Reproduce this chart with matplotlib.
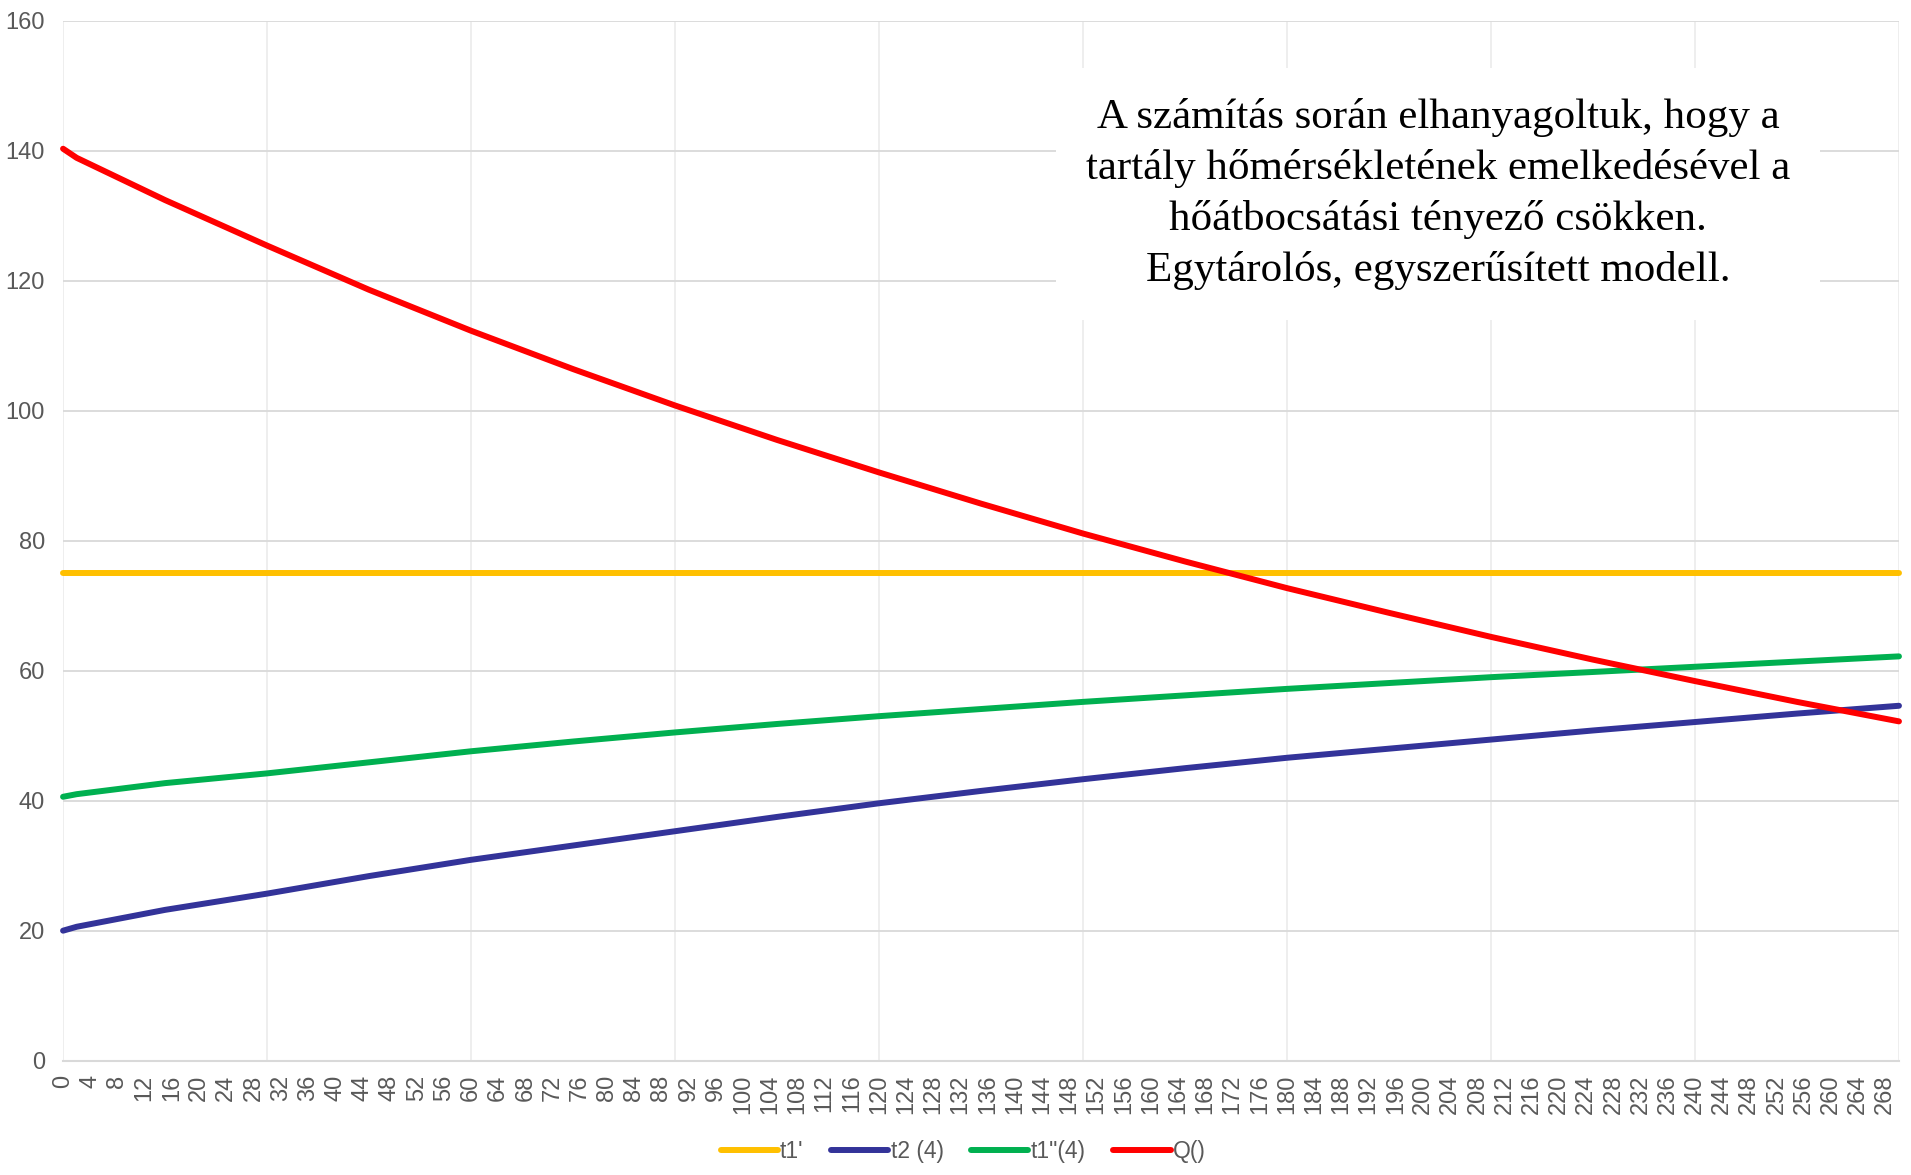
import numpy as np
import matplotlib
matplotlib.use("Agg")
import matplotlib.pyplot as plt

x_pts = [0, 2, 15, 30, 45, 60, 75, 90, 105, 120, 135, 150, 165, 180, 195, 210, 225, 240, 255, 270]

t1_prime = [75] * len(x_pts)
t2_4 = [20.0, 20.6, 23.2, 25.7, 28.4, 30.9, 33.1, 35.3, 37.5, 39.6, 41.5, 43.3, 45.0, 46.6, 48.0,
        49.4, 50.8, 52.1, 53.4, 54.6]
t1_dd_4 = [40.6, 41.0, 42.7, 44.2, 45.9, 47.6, 49.1, 50.5, 51.8, 53.0, 54.1, 55.2, 56.2, 57.2, 58.1,
           59.0, 59.8, 60.6, 61.4, 62.2]
q_vals = [140.3, 138.9, 132.4, 125.4, 118.6, 112.3, 106.4, 100.8, 95.5, 90.5, 85.7, 81.1, 76.8, 72.7,
          68.9, 65.2, 61.7, 58.4, 55.2, 52.2]

series_names = ["t1'", "t2 (4)", "t1\"(4)", "Q()"]
series_colors = ["#FFC000", "#333399", "#00B050", "#FF0000"]

x_labels = list(range(0, 269, 4))
x_grid = list(range(0, 271, 30))
y_ticks = list(range(0, 161, 20))

note = ("A számítás során elhanyagoltuk, hogy a\n"
        "tartály hőmérsékletének emelkedésével a\n"
        "hőátbocsátási tényező csökken.\n"
        "Egytárolós, egyszerűsített modell.")

plt.rcParams['font.family'] = ['Liberation Sans', 'DejaVu Sans']

fig = plt.figure(figsize=(19.11, 11.75), dpi=100)
ax = fig.add_axes([0.033, 0.0973, 0.9607, 0.8851])

for vals, name, col in zip([t1_prime, t2_4, t1_dd_4, q_vals], series_names, series_colors):
    ax.plot(x_pts, vals, color=col, lw=4.3, label=name, solid_capstyle='round',
            solid_joinstyle='round', clip_on=False, zorder=3)

ax.set_xlim(0, 270)
ax.set_ylim(0, 160)
ax.set_xticks(x_labels)
ax.set_xticklabels([str(v) for v in x_labels], rotation=90)
ax.set_yticks(y_ticks)

ax.tick_params(axis='both', which='both', length=0, labelsize=17, labelcolor='#595959')
ax.tick_params(axis='y', pad=13)
ax.tick_params(axis='x', pad=10)

ax.grid(axis='y', color='#D9D9D9', lw=1.3)
for gx in x_grid:
    ax.axvline(gx, color='#EDEDED', lw=1.3, zorder=0)
ax.set_axisbelow(True)

for side in ['top', 'right', 'left']:
    ax.spines[side].set_visible(False)
ax.spines['bottom'].set_color('#D9D9D9')
ax.spines['bottom'].set_linewidth(1.5)

ax.text(0.749, 0.833, note, transform=ax.transAxes, ha='center', va='center',
        family='Liberation Serif', fontsize=31, color='black', linespacing=1.4, zorder=5,
        bbox=dict(boxstyle='square,pad=0.7', facecolor='white', edgecolor='none'))

fig.legend(loc='center', bbox_to_anchor=(0.504, 0.0196), ncol=4, frameon=False,
           fontsize=16.5, labelcolor='#595959', handlelength=2.5, handletextpad=0.1,
           columnspacing=1.2)

fig.savefig("out.png", dpi=100)
